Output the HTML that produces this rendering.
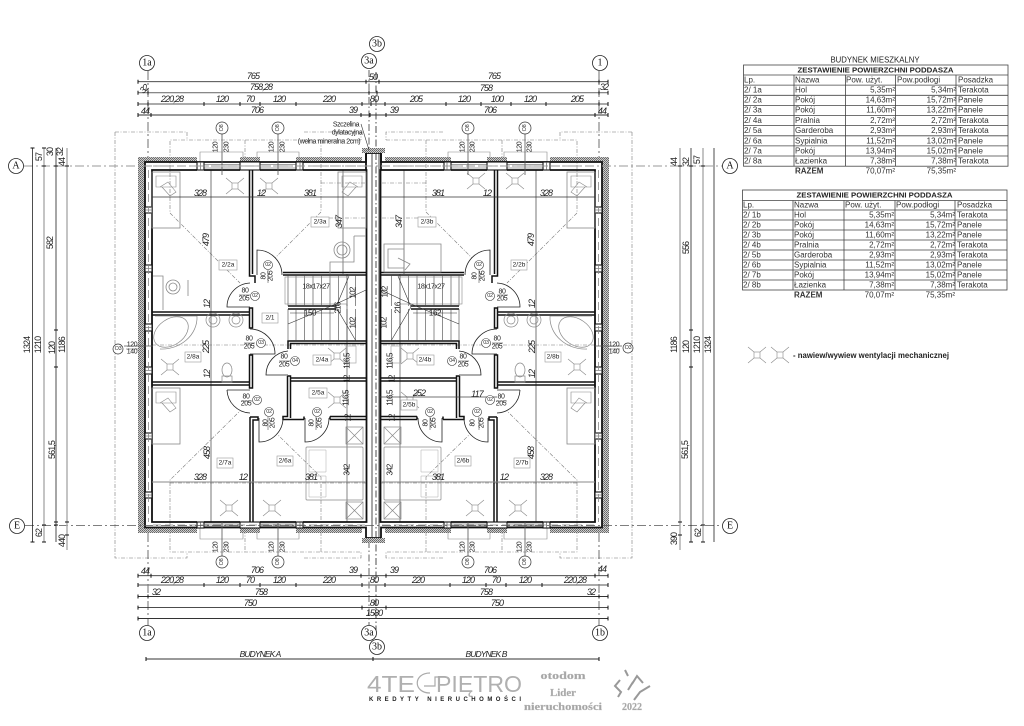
<!DOCTYPE html>
<html lang="pl"><head><meta charset="utf-8"><title>Rzut poddasza</title>
<style>
html,body{margin:0;padding:0;background:#fff}
svg{display:block}
text{font-family:"Liberation Sans",sans-serif;dominant-baseline:central;fill:#222}
.d{font-style:italic;font-size:9px;text-anchor:middle;letter-spacing:-.9px}
.s{font-size:7px;text-anchor:middle;letter-spacing:-.4px}
.sd text{letter-spacing:-.9px}
.in text.s{letter-spacing:-.8px}
.g{font-family:"Liberation Serif",serif;font-size:10px;text-anchor:middle;fill:#111}
.l{font-size:6.5px;text-anchor:middle}
.t{font-size:8px;fill:#333}
.n{font-size:8px;fill:#333;text-anchor:end}
.c{font-size:5.5px;text-anchor:middle;fill:#333;letter-spacing:-.3px}
.tb{font-size:7.5px;font-weight:bold;text-anchor:middle;fill:#222}
.lg{fill:#b0b0b0;font-size:23px;font-weight:normal;dominant-baseline:auto}
.lt{fill:#a5a5a5;font-family:"Liberation Serif",serif;font-weight:bold;text-anchor:middle;font-size:11px;stroke:#bbb;stroke-width:.3px}
</style></head><body>
<svg xmlns="http://www.w3.org/2000/svg" width="1024" height="726" viewBox="0 0 1024 726">
<defs>
<pattern id="h" width="2" height="2" patternUnits="userSpaceOnUse"><rect width="2" height="2" fill="#ccc"/><rect width="1" height="1" fill="#666"/><rect x="1" y="1" width="1" height="1" fill="#777"/></pattern>
<g id="v" fill="none" stroke="#888" stroke-width=".6"><rect x="-3" y="-3" width="6" height="6"/><path d="M-3-3L-9-8M3-3L9-8M-3 3L-9 8M3 3L9 8"/></g>
<g id="bed" fill="none" stroke="#888" stroke-width=".8"><rect x="0" y="0" width="28" height="56"/><path d="M4 4H24V15H4ZM8 15L16 10L24 20L18 24L10 15" stroke-width=".6"/></g>
<g id="plan">
 <g fill="none" stroke="#777" stroke-width=".6" stroke-dasharray="4 1.5 1 1.5">
  <path d="M361 140H170V213L240 283M245 140V170M321 140V212L275 258M115 132H187V140M304 132H361V140"/>
  <path d="M115 132V558H187V552M304 558H361V552H170V480L240 411M245 522V552M321 552V477L278 435"/>
  <path d="M321 183H366M321 218H366M170 483H366M152 345H366"/>
 </g>
 <g fill="url(#h)">
  <rect x="138" y="157" width="59" height="5"/><rect x="240" y="157" width="20" height="5"/><rect x="296" y="157" width="66" height="5"/>
  <rect x="138" y="157" width="7" height="376"/>
  <rect x="145" y="528" width="52" height="5"/><rect x="240" y="528" width="20" height="5"/><rect x="296" y="528" width="66" height="5"/>
 </g>
 <path d="M200 162V152H243V157M257 157V152H299V162M200 528V539H243V533M257 533V539H299V528" fill="none" stroke="#888" stroke-width=".6"/>
 <path d="M211 170V522" stroke="#555" stroke-width=".8"/>
 <path d="M343 170V274M347 274V522" stroke="#666" stroke-width=".8"/>
 <g fill="none" stroke="#111" stroke-width="1.8">
  <path d="M366 153V162H145V527.500H366V538"/>
  <path d="M197 170H152V522H197M204 522H240M260 522H296M303 522H366.500V170H303M296 170H260M240 170H204"/>
  <path d="M366 153V170"/>
 </g>
 <g fill="none" stroke="#111" stroke-width="1.5">
  <path d="M249.500 170V276H255V283M252.500 170V274M249.500 308H252.500V328H249.500ZM249.500 355H252.500V388H249.500Z"/>
  <path d="M152 312H249.500M152 315H249.500M152 382H249.500M152 385H249.500"/>
  <path d="M283 272.500H366M283 275H366"/>
  <path d="M288 349V341H366M290.500 349V343.500H366"/>
  <path d="M287.500 376H290.500V418M287.500 376V416.500H283V419.500H304M304 416.500V419.500M290.500 378H366M290.500 381H366M330 416.500H366M330 419.500H366M330 416.500V419.500"/>
  <path d="M250 417H258V420H253V522M250 417V522"/>
  <path d="M288 306H336M288 309H336"/>
 </g>
 <g fill="#fff" stroke="#111" stroke-width="1.100">
  <rect x="197" y="162" width="7" height="8"/><rect x="240" y="162" width="20" height="8"/><rect x="296" y="162" width="7" height="8"/>
  <rect x="197" y="522" width="7" height="6"/><rect x="240" y="522" width="20" height="6"/><rect x="296" y="522" width="7" height="6"/>
  <rect x="145" y="207" width="7" height="6"/><rect x="145" y="265" width="7" height="7"/><rect x="145" y="324" width="7" height="7"/><rect x="145" y="367" width="7" height="7"/><rect x="145" y="433" width="7" height="6"/><rect x="145" y="492" width="7" height="6"/>
 </g>
 <path d="M204 164.500H240M204 168H240M260 164.500H296M260 168H296M204 524H240M204 526H240M260 524H296M260 526H296M145 210H152M145 268.500H152M145 327.500H152M145 370.500H152M145 436H152M145 495H152M200.500 162V170M300 162V170M200.500 522V528M300 522V528" stroke="#444" stroke-width=".6" fill="none"/>
 <path d="M153 166H366M148.500 170V522M153 525H366" stroke="#888" stroke-width=".8" stroke-dasharray="8 4" fill="none"/>
 <path d="M296 275V306M304.500 275V306M313 275V306M321.500 275V306M330 275V306M338.500 275V306M347 275V306M355.500 275V306M288 275V306M296 309V341M304.500 309V341M313 309V341M321.500 309V341M330 309V341M338.500 309V341M347 309V341M355.500 309V341M288 309V341" stroke="#444" stroke-width=".6"/>
 <rect x="285" y="277" width="62" height="27" fill="none" stroke="#888" stroke-width=".6"/>
 <path d="M288 324L336 304L366 290M336 307L349 276M290 313H334M336 307L356 341" fill="none" stroke="#333" stroke-width=".6"/>
 <g fill="none" stroke="#222" stroke-width=".8">
  <path d="M257 275V250A25 25 0 0 1 282 275"/>
  <path d="M250 283A24 24 0 0 0 227 307H250"/>
  <path d="M250 329A25 25 0 0 1 275 354H250"/>
  <path d="M288 351A24 24 0 0 0 266 375H288"/>
  <path d="M227 390H250M227 390A24 24 0 0 0 250 413"/>
  <path d="M283 418A24 24 0 0 1 259 442V418"/>
  <path d="M329 418A24 24 0 0 1 305 442V418"/>
 </g>
 <g fill="none" stroke="#888" stroke-width=".7">
  <path d="M155 316H197C198 335 180 350 160 349"/>
  <ellipse cx="171" cy="332" rx="19" ry="13" transform="rotate(-35 171 332)"/>
  <circle cx="213" cy="320" r="7"/><circle cx="213" cy="320" r="4"/>
  <circle cx="236" cy="320" r="7"/><circle cx="236" cy="320" r="4"/>
  <ellipse cx="227" cy="370" rx="5" ry="7"/><rect x="222" y="376" width="10" height="6"/>
  <rect x="346" y="427" width="17" height="17"/><path d="M346 427L363 444M363 427L346 444"/>
  <rect x="346" y="502" width="17" height="17"/><path d="M346 519L363 502M346 502L363 519"/>
  <rect x="306" y="447" width="57" height="53" rx="1"/><path d="M309 450H326V472H309ZM309 476H326V497H309Z" stroke-width=".5" stroke="#aaa"/>
  <rect x="346" y="346" width="10" height="17" stroke="#aaa"/>
 </g>
 <use href="#bed" x="152" y="172"/>
 <use href="#bed" x="152" y="388"/>
 <use href="#v" x="170" y="367"/>
 <use href="#v" x="229" y="508"/><use href="#v" x="272" y="508"/>
 <use href="#v" x="337" y="356"/><use href="#v" x="337" y="400"/>
</g>
</defs>

<use href="#plan"/>
<use href="#plan" transform="translate(747,0) scale(-1,1)"/>

<g fill="none" stroke="#888" stroke-width=".8">
 <use href="#bed" transform="translate(366,172) scale(-1,1)"/>
 <circle cx="173" cy="287" r="7"/><circle cx="173" cy="287" r="4"/><path d="M153 276H163V310M188 280V296"/>
 <circle cx="342" cy="250" r="8"/><circle cx="342" cy="250" r="5"/><path d="M354 236H366M354 236V262H330V274"/>
 <path d="M384 244H441V272H384ZM388 249H404V268H388ZM398 258L410 264L405 270"/>
</g>
<use href="#v" x="235" y="186"/><use href="#v" x="269" y="186"/><use href="#v" x="476" y="181"/><use href="#v" x="515" y="181"/>

<g fill="none">
 <path d="M366 153H381" stroke="#111" stroke-width="1.800"/><path d="M366 538H381" stroke="#111" stroke-width="1.800"/>
 <path d="M372 153V538M379 153V538" stroke="#222" stroke-width=".8"/>
 <path d="M376 72V640" stroke="#222" stroke-width=".8" stroke-dasharray="7 2.500 1.500 2.500"/>
 <path d="M369 70V150M369 541V625" stroke="#222" stroke-width=".7" stroke-dasharray="7 2.500 1.500 2.500"/>
 <rect x="362" y="148" width="23" height="5" fill="url(#h)"/><rect x="362" y="538" width="23" height="5" fill="url(#h)"/>
</g>

<g fill="none" stroke="#777" stroke-width=".9" stroke-dasharray="9 3 2 3">
 <path d="M24 166H722" stroke-width="1.100" stroke="#999"/>
 <path d="M25 525.500H722" stroke="#555" stroke-width=".8"/>
 <path d="M148 71V157M148 533V625M599 71V157M599 533V625" stroke="#333" stroke-width=".7"/>
</g>

<g stroke="#333" stroke-width=".9" fill="none">
 <path d="M138 81.700H608M138 115H608M138 575.700H608M138 607.600H608M138 618.500H608M138 596.500H608M146 659H599"/>
 <path d="M138 92.700H608M138 104H608M138 585H608" stroke="#777" stroke-width="1.200"/>
 <path d="M56 148V522M32.500 148V542M691 148V542M714 148V542M56 522V542" stroke="#222" stroke-width=".8"/>
 <path d="M44 148V542M67 148V550M680 148V550M703 148V542" stroke="#aaa" stroke-width="1.400"/>
 <path d="M152 197H366M381 197H595" stroke="#333" stroke-width=".7"/>
 <path d="M152 482H366M381 482H595" stroke="#888" stroke-width="1"/>
 <path d="M380 397H497" stroke="#444" stroke-width=".7"/>
 <path d="M138 79.700v4M366 79.700v4M379 79.700v4M608 79.700v4M599 79.700v4M148 90.700v4M138 90.700v4M369 90.700v4M377 90.700v4M599 90.700v4M608 90.700v4M138 102v4M148 102v4M204 102v4M240 102v4M260 102v4M296 102v4M362 102v4M371 102v4M385 102v4M446 102v4M481 102v4M511 102v4M546 102v4M599 102v4M608 102v4M138 113v4M151 113v4M361 113v4M370 113v4M386 113v4M595 113v4M608 113v4M138 573.700v4M151 573.700v4M361 573.700v4M386 573.700v4M595 573.700v4M608 573.700v4M138 583v4M204 583v4M240 583v4M260 583v4M296 583v4M362 583v4M385 583v4M450 583v4M486 583v4M506 583v4M542 583v4M608 583v4M138 594.500v4M148 594.500v4M599 594.500v4M608 594.500v4M138 605.600v4M362 605.600v4M386 605.600v4M608 605.600v4M138 616.500v4M608 616.500v4M146 657v4M373 657v4M599 657v4" stroke="#111" stroke-width="1"/>
 <path d="M30.500 148h4M42 148h4M42 166h4M54 166h4M65 166h4M54 330h4M54 367h4M54 522h4M42 525h4M65 522h4M30.500 542h4M42 542h4M54 525h4M65 535h4M678 166h4M689 166h4M701 166h4M689 330h4M689 367h4M678 522h4M701 525h4M678 535h4M701 542h4M689 542h4" stroke="#111" stroke-width="1"/>
</g>

<g fill="#fff" stroke="#222" stroke-width=".8">
 <circle cx="147" cy="63" r="7.500"/><circle cx="369" cy="61" r="7.500"/><circle cx="377" cy="44" r="7.500"/><circle cx="600" cy="63" r="7.500"/>
 <circle cx="16" cy="166" r="7.500"/><circle cx="730" cy="166" r="7.500"/><circle cx="17" cy="526" r="7.500"/><circle cx="730" cy="526" r="7.500"/>
 <circle cx="147" cy="633" r="7.500"/><circle cx="369" cy="633" r="7.500"/><circle cx="377" cy="647" r="7.500"/><circle cx="600" cy="633" r="7.500"/>
</g>
<g>
<text class="g" x="147" y="63">1a</text><text class="g" x="369" y="61">3a</text><text class="g" x="377" y="44">3b</text><text class="g" x="600" y="63">1</text>
<text class="g" x="16" y="166">A</text><text class="g" x="730" y="166">A</text><text class="g" x="17" y="526">E</text><text class="g" x="730" y="526">E</text>
<text class="g" x="147" y="633">1a</text><text class="g" x="369" y="633">3a</text><text class="g" x="377" y="647">3b</text><text class="g" x="600" y="633">1b</text>
</g>

<g>
<text class="d" x="253" y="76">765</text><text class="d" x="373" y="77">50</text><text class="d" x="494" y="76">765</text>
<text class="d" transform="translate(144,89) rotate(-45)">32</text><text class="d" x="261" y="87">758,28</text><text class="d" x="486" y="88">758</text><text class="d" x="604" y="87">32</text>
<text class="d" x="172" y="99">220,28</text><text class="d" x="222" y="99">120</text><text class="d" x="250" y="99">70</text><text class="d" x="279" y="99">120</text><text class="d" x="329" y="99">220</text><text class="d" x="374" y="99">80</text>
<text class="d" x="416" y="99">205</text><text class="d" x="464" y="99">120</text><text class="d" x="497" y="99">100</text><text class="d" x="530" y="99">120</text><text class="d" x="577" y="99">205</text>
<text class="d" x="145" y="111">44</text><text class="d" x="257" y="110">706</text><text class="d" x="353" y="110">39</text><text class="d" x="394" y="110">39</text><text class="d" x="490" y="110">706</text><text class="d" x="602" y="111">44</text>
<text class="d" x="145" y="571">44</text><text class="d" x="257" y="570">706</text><text class="d" x="353" y="570">39</text><text class="d" x="394" y="570">39</text><text class="d" x="490" y="570">706</text><text class="d" x="602" y="569">44</text>
<text class="d" x="172" y="580">220,28</text><text class="d" x="222" y="580">120</text><text class="d" x="250" y="580">70</text><text class="d" x="279" y="580">120</text><text class="d" x="329" y="580">220</text><text class="d" x="374" y="580">80</text>
<text class="d" x="418" y="580">220</text><text class="d" x="468" y="580">120</text><text class="d" x="496" y="580">70</text><text class="d" x="525" y="580">120</text><text class="d" x="575" y="580">220,28</text>
<text class="d" x="156" y="592">32</text><text class="d" x="261" y="592">758</text><text class="d" x="486" y="592">758</text><text class="d" x="591" y="592">32</text>
<text class="d" x="250" y="603">750</text><text class="d" x="374" y="603">80</text><text class="d" x="497" y="603">750</text>
<text class="d" x="374" y="613">1580</text>
<text class="d" x="260" y="654" style="font-size:8.500px">BUDYNEK A</text><text class="d" x="486" y="654" style="font-size:8.500px">BUDYNEK B</text>
</g>

<g class="sd">
<text class="s" style="font-size:9px" transform="translate(27,345) rotate(-90)">1324</text>
<text class="s" style="font-size:9px" transform="translate(38,345) rotate(-90)">1210</text>
<text class="s" style="font-size:9px" transform="translate(50,243) rotate(-90)">582</text>
<text class="s" style="font-size:9px" transform="translate(52,348) rotate(-90)">120</text>
<text class="s" style="font-size:9px" transform="translate(62,345) rotate(-90)">1186</text>
<text class="s" style="font-size:9px" transform="translate(52,450) rotate(-90)">561,5</text>
<text class="s" style="font-size:9px" transform="translate(39,157) rotate(-90)">57</text>
<text class="s" style="font-size:9px" transform="translate(50,152) rotate(-90)">30</text>
<text class="s" style="font-size:9px" transform="translate(62,162) rotate(-90)">44</text>
<text class="s" style="font-size:9px" transform="translate(60,152) rotate(-90)">32</text>
<text class="s" style="font-size:9px" transform="translate(39,533) rotate(-90)">62</text>
<text class="s" style="font-size:9px" transform="translate(62,541) rotate(-90)">440</text>
<text class="s" style="font-size:9px" transform="translate(674,162) rotate(-90)">44</text>
<text class="s" style="font-size:9px" transform="translate(686,162) rotate(-90)">32</text>
<text class="s" style="font-size:9px" transform="translate(697,160) rotate(-90)">57</text>
<text class="s" style="font-size:9px" transform="translate(686,248) rotate(-90)">556</text>
<text class="s" style="font-size:9px" transform="translate(674,345) rotate(-90)">1186</text>
<text class="s" style="font-size:9px" transform="translate(686,347) rotate(-90)">120</text>
<text class="s" style="font-size:9px" transform="translate(697,345) rotate(-90)">1210</text>
<text class="s" style="font-size:9px" transform="translate(708,345) rotate(-90)">1324</text>
<text class="s" style="font-size:9px" transform="translate(685,450) rotate(-90)">561,5</text>
<text class="s" style="font-size:9px" transform="translate(674,539) rotate(-90)">390</text>
<text class="s" style="font-size:9px" transform="translate(698,533) rotate(-90)">62</text>
</g>

<g>
<text class="d" x="200" y="193">328</text><text class="d" x="261" y="193">12</text><text class="d" x="310" y="193">381</text>
<text class="d" x="438" y="193">381</text><text class="d" x="487" y="193">12</text><text class="d" x="546" y="193">328</text>
<text class="d" x="200" y="477">328</text><text class="d" x="243" y="477">12</text><text class="d" x="311" y="477">381</text>
<text class="d" x="438" y="477">381</text><text class="d" x="504" y="477">12</text><text class="d" x="546" y="477">328</text>
<text class="d" x="419" y="393">252</text><text class="d" x="477" y="394">117</text>
<text class="s" x="316" y="287">18x17x27</text><text class="s" x="431" y="287">18x17x27</text>
<text class="s" style="font-size:8px" x="310" y="313">150</text><text class="s" style="font-size:8px" x="435" y="313">162</text>
</g>
<g class="in">
<text class="d" transform="translate(206,240) rotate(-90)">479</text><text class="d" transform="translate(207,304) rotate(-90)">12</text><text class="d" transform="translate(206,347) rotate(-90)">225</text><text class="d" transform="translate(207,374) rotate(-90)">12</text><text class="d" transform="translate(207,453) rotate(-90)">458</text>
<text class="d" transform="translate(531,240) rotate(-90)">479</text><text class="d" transform="translate(532,304) rotate(-90)">12</text><text class="d" transform="translate(532,347) rotate(-90)">225</text><text class="d" transform="translate(532,374) rotate(-90)">12</text><text class="d" transform="translate(531,453) rotate(-90)">458</text>
<text class="d" transform="translate(339,222) rotate(-90)">347</text><text class="d" transform="translate(399,222) rotate(-90)">347</text>
<text class="s" style="font-size:8px" transform="translate(353,293) rotate(-90)">102</text><text class="s" style="font-size:8px" transform="translate(353,323) rotate(-90)">102</text><text class="s" style="font-size:8px" transform="translate(385,292) rotate(-90)">102</text><text class="s" style="font-size:8px" transform="translate(384,323) rotate(-90)">102</text>
<text class="s" style="font-size:8px" transform="translate(338,308) rotate(-90)">216</text><text class="s" style="font-size:8px" transform="translate(398,308) rotate(-90)">216</text>
<text class="s" style="font-size:8px" transform="translate(347,361) rotate(-90)">116,5</text><text class="s" style="font-size:8px" transform="translate(346,398) rotate(-90)">116,5</text><text class="s" style="font-size:8px" transform="translate(390,361) rotate(-90)">116,5</text><text class="s" style="font-size:8px" transform="translate(390,398) rotate(-90)">116,5</text>
<text class="s" style="font-size:8px" transform="translate(347,379) rotate(-90)">12</text><text class="s" style="font-size:8px" transform="translate(348,418) rotate(-90)">12</text><text class="s" style="font-size:8px" transform="translate(392,379) rotate(-90)">12</text><text class="s" style="font-size:8px" transform="translate(392,418) rotate(-90)">12</text>
<text class="s" style="font-size:8px" transform="translate(347,470) rotate(-90)">342</text><text class="s" style="font-size:8px" transform="translate(390,470) rotate(-90)">342</text>
</g>

<g fill="#fff" stroke="#999" stroke-width=".6">
<rect x="311" y="217" width="18" height="10"/><rect x="219" y="260" width="18" height="10"/><rect x="262" y="313" width="16" height="10"/><rect x="185" y="352" width="16" height="10"/><rect x="313" y="355" width="18" height="10"/><rect x="309" y="388" width="18" height="10"/><rect x="217" y="458" width="16" height="10"/><rect x="277" y="456" width="16" height="10"/>
<rect x="418" y="217" width="18" height="10"/><rect x="511" y="260" width="16" height="10"/><rect x="545" y="352" width="16" height="10"/><rect x="417" y="355" width="17" height="10"/><rect x="401" y="400" width="16" height="10"/><rect x="514" y="458" width="16" height="10"/><rect x="455" y="456" width="16" height="10"/>
</g>
<g>
<text class="l" x="320" y="222">2/3a</text><text class="l" x="228" y="265">2/2a</text><text class="l" x="270" y="318">2/1</text><text class="l" x="193" y="357">2/8a</text><text class="l" x="322" y="360">2/4a</text><text class="l" x="318" y="393">2/5a</text><text class="l" x="225" y="463">2/7a</text><text class="l" x="285" y="461">2/6a</text>
<text class="l" x="427" y="222">2/3b</text><text class="l" x="519" y="265">2/2b</text><text class="l" x="553" y="357">2/8b</text><text class="l" x="425" y="360">2/4b</text><text class="l" x="409" y="405">2/5b</text><text class="l" x="522" y="463">2/7b</text><text class="l" x="463" y="461">2/6b</text>
</g>

<g fill="#fff" stroke="#333" stroke-width=".6">
<circle cx="268" cy="265" r="4.500"/><circle cx="255" cy="296" r="4.500"/><circle cx="261" cy="343" r="4.500"/><circle cx="295" cy="361" r="4.500"/><circle cx="257" cy="400" r="4.500"/><circle cx="269" cy="412" r="4.500"/><circle cx="317" cy="412" r="4.500"/>
<circle cx="479" cy="265" r="4.500"/><circle cx="490" cy="296" r="4.500"/><circle cx="486" cy="343" r="4.500"/><circle cx="452" cy="361" r="4.500"/><circle cx="490" cy="400" r="4.500"/><circle cx="477" cy="412" r="4.500"/><circle cx="430" cy="412" r="4.500"/>
</g>
<g>
<text class="c" x="268" y="265">02</text><text class="c" x="255" y="296">02</text><text class="c" x="261" y="343">03</text><text class="c" x="295" y="361">04</text><text class="c" x="257" y="400">02</text><text class="c" x="269" y="412">02</text><text class="c" x="317" y="412">02</text>
<text class="c" x="479" y="265">02</text><text class="c" x="490" y="296">02</text><text class="c" x="486" y="343">03</text><text class="c" x="452" y="361">04</text><text class="c" x="490" y="400">02</text><text class="c" x="477" y="412">02</text><text class="c" x="430" y="412">02</text>
</g>
<g>
<text class="s" x="245" y="291">80</text><text class="s" x="244" y="299">205</text><text class="s" x="249" y="339">80</text><text class="s" x="249" y="347">205</text><text class="s" x="284" y="357">80</text><text class="s" x="284" y="365">205</text><text class="s" x="246" y="397">80</text><text class="s" x="246" y="404">205</text>
<text class="s" x="502" y="292">80</text><text class="s" x="502" y="299">205</text><text class="s" x="497" y="339">80</text><text class="s" x="497" y="347">205</text><text class="s" x="463" y="357">80</text><text class="s" x="463" y="365">205</text><text class="s" x="501" y="397">80</text><text class="s" x="501" y="404">205</text>
<text class="s" transform="translate(264,276) rotate(-90)">80</text><text class="s" transform="translate(271,276) rotate(-90)">205</text>
<text class="s" transform="translate(475,276) rotate(-90)">80</text><text class="s" transform="translate(483,276) rotate(-90)">205</text>
<text class="s" transform="translate(266,423) rotate(-90)">80</text><text class="s" transform="translate(273,423) rotate(-90)">205</text>
<text class="s" transform="translate(312,423) rotate(-90)">80</text><text class="s" transform="translate(320,423) rotate(-90)">205</text>
<text class="s" transform="translate(473,423) rotate(-90)">80</text><text class="s" transform="translate(482,423) rotate(-90)">205</text>
<text class="s" transform="translate(426,423) rotate(-90)">80</text><text class="s" transform="translate(434,423) rotate(-90)">205</text>
</g>
<path d="M239 295H250M244 343H255M279 361H290M241 401H252M497 295H508M492 343H503M458 361H469M496 401H507M268 270V283M268 417V430M316 417V430M479 270V283M479 417V430M430 417V430" stroke="#333" stroke-width=".5"/>

<g stroke="#555" stroke-width=".8" fill="none">
<path d="M222 134V175M278 134V175M468 134V175M525 134V175M222 522V556M278 522V556M468 522V556M525 522V556"/>
<path d="M124 346H153M595 346H622"/>
<path d="M126 349H138M608 349H620" stroke-width=".5"/>
</g>
<g fill="#fff" stroke="#333" stroke-width=".7">
<circle cx="222" cy="128" r="6"/><circle cx="278" cy="128" r="6"/><circle cx="468" cy="128" r="6"/><circle cx="525" cy="128" r="6"/><circle cx="222" cy="562" r="6"/><circle cx="278" cy="562" r="6"/><circle cx="468" cy="562" r="6"/><circle cx="525" cy="562" r="6"/>
<circle cx="118" cy="349" r="5"/><circle cx="628" cy="348" r="5"/>
</g>
<g>
<text class="c" transform="translate(222,128) rotate(-90)">O8</text><text class="c" transform="translate(278,128) rotate(-90)">O8</text><text class="c" transform="translate(468,128) rotate(-90)">O8</text><text class="c" transform="translate(525,128) rotate(-90)">O8</text>
<text class="c" transform="translate(222,562) rotate(-90)">O8</text><text class="c" transform="translate(278,562) rotate(-90)">O8</text><text class="c" transform="translate(468,562) rotate(-90)">O8</text><text class="c" transform="translate(525,562) rotate(-90)">O8</text>
<text class="c" x="118" y="349">O3</text><text class="c" x="628" y="348">O3</text>
<text class="s" x="132" y="345">120</text><text class="s" x="132" y="352">140</text><text class="s" x="614" y="345">120</text><text class="s" x="614" y="352">140</text>
<text class="s" transform="translate(216,147) rotate(-90)">120</text><text class="s" transform="translate(227,147) rotate(-90)">230</text>
<text class="s" transform="translate(272,147) rotate(-90)">120</text><text class="s" transform="translate(283,147) rotate(-90)">230</text>
<text class="s" transform="translate(463,147) rotate(-90)">120</text><text class="s" transform="translate(473,147) rotate(-90)">230</text>
<text class="s" transform="translate(520,147) rotate(-90)">120</text><text class="s" transform="translate(530,147) rotate(-90)">230</text>
<text class="s" transform="translate(216,547) rotate(-90)">120</text><text class="s" transform="translate(227,547) rotate(-90)">230</text>
<text class="s" transform="translate(272,547) rotate(-90)">120</text><text class="s" transform="translate(283,547) rotate(-90)">230</text>
<text class="s" transform="translate(463,547) rotate(-90)">120</text><text class="s" transform="translate(473,547) rotate(-90)">230</text>
<text class="s" transform="translate(520,547) rotate(-90)">120</text><text class="s" transform="translate(530,547) rotate(-90)">230</text>
</g>

<g>
<text class="s" x="346" y="125">Szczelina</text><text class="s" x="347" y="133">dylatacyjna</text><text class="s" x="329" y="142">(wełna mineralna 2cm)</text>
</g>
<path d="M361 124L369 150" stroke="#333" stroke-width=".6"/>

<text x="875" y="60" text-anchor="middle" font-size="8" fill="#333" textLength="89" lengthAdjust="spacingAndGlyphs">BUDYNEK MIESZKALNY</text>
<g fill="none" stroke="#444" stroke-width=".8">
<rect x="743.500" y="65" width="264.500" height="101.200"/>
<path d="M743.500 75H1008M743.500 85.100H1008M743.500 95.300H1008M743.500 105.400H1008M743.500 115.500H1008M743.500 125.600H1008M743.500 135.800H1008M743.500 145.900H1008M743.500 156H1008M794 75V166.200M845.500 75V166.200M895.500 75V166.200M956 75V166.200"/>
<rect x="742.500" y="190" width="264.500" height="100"/>
<path d="M742.500 200.500H1007M742.500 210H1007M742.500 220H1007M742.500 230H1007M742.500 240H1007M742.500 250H1007M742.500 260H1007M742.500 270H1007M742.500 280H1007M793 200.500V290M844 200.500V290M895 200.500V290M955 200.500V290"/>
</g>
<text class="tb" x="875.500" y="70" textLength="156" lengthAdjust="spacingAndGlyphs">ZESTAWIENIE POWIERZCHNI PODDASZA</text>
<g>
<text class="t" x="744" y="80">Lp.</text><text class="t" x="795" y="80">Nazwa</text><text class="t" x="846" y="80">Pow. użyt.</text><text class="t" x="897" y="80">Pow.podłogi</text><text class="t" x="958" y="80">Posadzka</text>
<text class="t" x="744" y="90">2/ 1a</text><text class="t" x="795" y="90">Hol</text><text class="n" x="895" y="90">5,35m²</text><text class="n" x="956" y="90">5,34m²</text><text class="t" x="958" y="90">Terakota</text>
<text class="t" x="744" y="100">2/ 2a</text><text class="t" x="795" y="100">Pokój</text><text class="n" x="895" y="100">14,63m²</text><text class="n" x="956" y="100">15,72m²</text><text class="t" x="958" y="100">Panele</text>
<text class="t" x="744" y="110">2/ 3a</text><text class="t" x="795" y="110">Pokój</text><text class="n" x="895" y="110">11,60m²</text><text class="n" x="956" y="110">13,22m²</text><text class="t" x="958" y="110">Panele</text>
<text class="t" x="744" y="120.500">2/ 4a</text><text class="t" x="795" y="120.500">Pralnia</text><text class="n" x="895" y="120.500">2,72m²</text><text class="n" x="956" y="120.500">2,72m²</text><text class="t" x="958" y="120.500">Terakota</text>
<text class="t" x="744" y="130.500">2/ 5a</text><text class="t" x="795" y="130.500">Garderoba</text><text class="n" x="895" y="130.500">2,93m²</text><text class="n" x="956" y="130.500">2,93m²</text><text class="t" x="958" y="130.500">Terakota</text>
<text class="t" x="744" y="141">2/ 6a</text><text class="t" x="795" y="141">Sypialnia</text><text class="n" x="895" y="141">11,52m²</text><text class="n" x="956" y="141">13,02m²</text><text class="t" x="958" y="141">Panele</text>
<text class="t" x="744" y="151">2/ 7a</text><text class="t" x="795" y="151">Pokój</text><text class="n" x="895" y="151">13,94m²</text><text class="n" x="956" y="151">15,02m²</text><text class="t" x="958" y="151">Panele</text>
<text class="t" x="744" y="161">2/ 8a</text><text class="t" x="795" y="161">Łazienka</text><text class="n" x="895" y="161">7,38m²</text><text class="n" x="956" y="161">7,38m²</text><text class="t" x="958" y="161">Terakota</text>
<text class="t" x="795" y="171" font-weight="bold">RAZEM</text><text class="n" x="895" y="171">70,07m²</text><text class="n" x="956" y="171">75,35m²</text>
</g>
<text class="tb" x="874.500" y="195" textLength="156" lengthAdjust="spacingAndGlyphs">ZESTAWIENIE POWIERZCHNI PODDASZA</text>
<g>
<text class="t" x="743" y="205">Lp.</text><text class="t" x="794" y="205">Nazwa</text><text class="t" x="845" y="205">Pow. użyt.</text><text class="t" x="896" y="205">Pow.podłogi</text><text class="t" x="957" y="205">Posadzka</text>
<text class="t" x="743" y="215">2/ 1b</text><text class="t" x="794" y="215">Hol</text><text class="n" x="894" y="215">5,35m²</text><text class="n" x="955" y="215">5,34m²</text><text class="t" x="957" y="215">Terakota</text>
<text class="t" x="743" y="225">2/ 2b</text><text class="t" x="794" y="225">Pokój</text><text class="n" x="894" y="225">14,63m²</text><text class="n" x="955" y="225">15,72m²</text><text class="t" x="957" y="225">Panele</text>
<text class="t" x="743" y="235">2/ 3b</text><text class="t" x="794" y="235">Pokój</text><text class="n" x="894" y="235">11,60m²</text><text class="n" x="955" y="235">13,22m²</text><text class="t" x="957" y="235">Panele</text>
<text class="t" x="743" y="245">2/ 4b</text><text class="t" x="794" y="245">Pralnia</text><text class="n" x="894" y="245">2,72m²</text><text class="n" x="955" y="245">2,72m²</text><text class="t" x="957" y="245">Terakota</text>
<text class="t" x="743" y="255">2/ 5b</text><text class="t" x="794" y="255">Garderoba</text><text class="n" x="894" y="255">2,93m²</text><text class="n" x="955" y="255">2,93m²</text><text class="t" x="957" y="255">Terakota</text>
<text class="t" x="743" y="265">2/ 6b</text><text class="t" x="794" y="265">Sypialnia</text><text class="n" x="894" y="265">11,52m²</text><text class="n" x="955" y="265">13,02m²</text><text class="t" x="957" y="265">Panele</text>
<text class="t" x="743" y="275">2/ 7b</text><text class="t" x="794" y="275">Pokój</text><text class="n" x="894" y="275">13,94m²</text><text class="n" x="955" y="275">15,02m²</text><text class="t" x="957" y="275">Panele</text>
<text class="t" x="743" y="285">2/ 8b</text><text class="t" x="794" y="285">Łazienka</text><text class="n" x="894" y="285">7,38m²</text><text class="n" x="955" y="285">7,38m²</text><text class="t" x="957" y="285">Terakota</text>
<text class="t" x="794" y="295" font-weight="bold">RAZEM</text><text class="n" x="894" y="295">70,07m²</text><text class="n" x="955" y="295">75,35m²</text>
</g>

<use href="#v" x="757" y="355"/><use href="#v" x="780" y="355"/>
<text x="793" y="355" font-size="8.500" font-weight="bold" fill="#222" textLength="156" lengthAdjust="spacingAndGlyphs">- nawiew/wywiew wentylacji mechanicznej</text>

<text class="lg" x="367" y="692" textLength="48" lengthAdjust="spacingAndGlyphs">4TE</text>
<text class="lg" x="436" y="692" textLength="86" lengthAdjust="spacingAndGlyphs">PIĘTRO</text>
<path d="M430 673C413 673 413 693 430 693M424 686H435V677H446" fill="none" stroke="#aaa" stroke-width="1.200"/>
<text x="369" y="700" font-size="6" font-weight="bold" fill="#aaa" textLength="152">KREDYTY   NIERUCHOMOŚCI</text>
<text class="lt" x="563" y="676" textLength="45" lengthAdjust="spacingAndGlyphs">otodom</text>
<text class="lt" x="563" y="693" textLength="26" lengthAdjust="spacingAndGlyphs">Lider</text>
<text class="lt" x="563" y="707" textLength="78" lengthAdjust="spacingAndGlyphs">nieruchomości</text>
<path d="M625 670L628 676M620 680L615 686L621 692L618 697M632 684L637 676L643 683M650 686L640 692L634 700M628 690L633 682" fill="none" stroke="#999" stroke-width="2"/>
<text class="lt" x="632" y="707" textLength="20" lengthAdjust="spacingAndGlyphs">2022</text>
</svg>
</body></html>
